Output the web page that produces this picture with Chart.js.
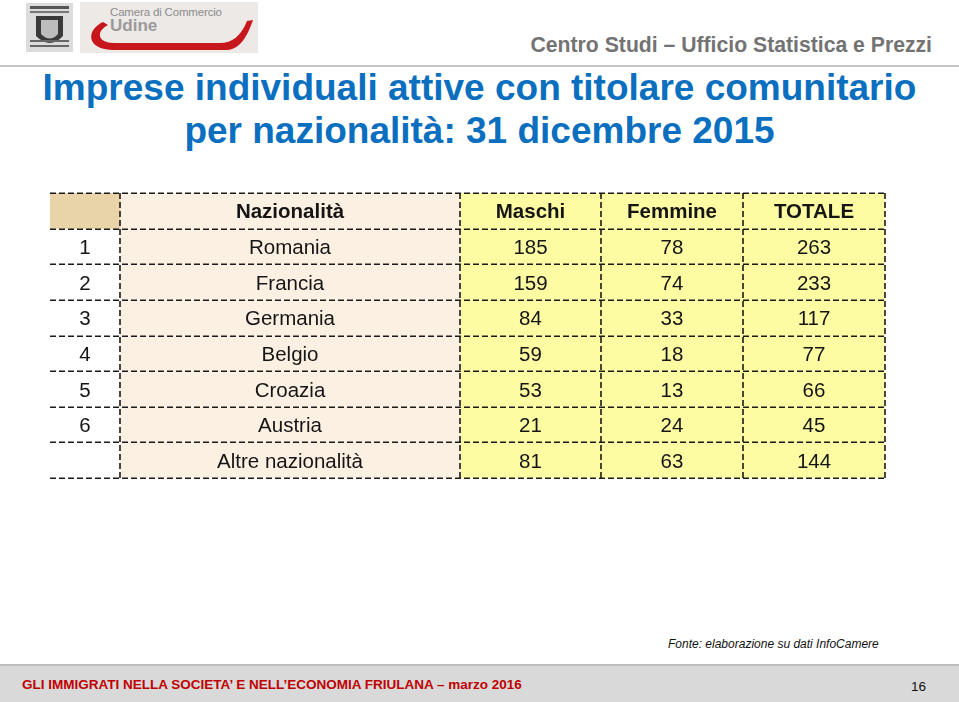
<!DOCTYPE html>
<html lang="it">
<head>
<meta charset="utf-8">
<title>Imprese individuali attive con titolare comunitario</title>
<script src="https://cdn.jsdelivr.net/npm/chart.js@4.4.1/dist/chart.umd.min.js"></script>
<style>
  html, body { margin: 0; padding: 0; background: #fff; }
  body { width: 959px; height: 702px; position: relative; overflow: hidden;
         font-family: 'Liberation Sans', Arial, sans-serif; }
  .abs { position: absolute; white-space: nowrap; }
  #topline { left: 0; top: 65px; width: 959px; height: 2px; background: #c4c4c4; }
  #ufficio { right: 27px; top: 33px; font-size: 21.2px; font-weight: bold; color: #737373; }
  .title { left: 0; width: 959px; text-align: center; font-size: 37px; font-weight: bold; color: #0b6fc0; }
  #fonte { left: 668px; top: 637px; font-size: 12px; font-style: italic; color: #111; }
  #footer { left: 0; top: 664px; width: 959px; height: 38px; background: #d9d9d9; border-top: 2px solid #bdbdbd; }
  #footTxt { left: 22px; top: 677px; font-size: 13.5px; font-weight: bold; color: #c00000; }
  #pageNo { left: 911px; top: 679px; font-size: 13.5px; color: #111; }
  #tbl { position: absolute; left: 48px; top: 191px; }
</style>
</head>
<body>

<svg class="abs" style="left:0;top:0" width="270" height="60">
  <!-- stemma -->
  <rect x="26" y="3" width="47" height="49" fill="#dcdcdc"/>
  <rect x="30" y="6" width="39" height="3" fill="#555"/>
  <rect x="30" y="11" width="39" height="2" fill="#777"/>
  <path d="M36 16 h27 v20 q-13 14 -27 0 z" fill="#3a3a3a"/>
  <path d="M41 20 h17 v14 q-8 9 -17 0 z" fill="#bdbdbd"/>
  <rect x="30" y="40" width="39" height="2" fill="#666"/>
  <rect x="30" y="45" width="39" height="2" fill="#666"/>
  <!-- camera di commercio -->
  <rect x="80" y="2" width="178" height="51" fill="#ece9e7"/>
  <path d="M103 22 C 86 30, 86 49, 112 50 L 228 50 C 242 48, 248 34, 253 20 L 247 21 C 241 36, 232 43, 220 43 L 114 43 C 97 43, 96 31, 108 25 Z" fill="#c8161d"/>
  <text x="110" y="16" font-family="Liberation Sans Narrow, Liberation Sans, Arial" font-size="11.5" fill="#8c8c8c" textLength="112">Camera di Commercio</text>
  <text x="110" y="31" font-family="Liberation Sans Narrow, Liberation Sans, Arial" font-size="17" font-weight="bold" fill="#9a9a9a">Udine</text>
</svg>

<div class="abs" id="ufficio">Centro Studi – Ufficio Statistica e Prezzi</div>
<div class="abs" id="topline"></div>
<div class="abs title" style="top:67px">Imprese individuali attive con titolare comunitario</div>
<div class="abs title" style="top:110px">per nazionalità: 31 dicembre 2015</div>

<canvas id="tbl" width="840" height="290"></canvas>

<div class="abs" id="fonte">Fonte: elaborazione su dati InfoCamere</div>
<div class="abs" id="footer"></div>
<div class="abs" id="footTxt">GLI IMMIGRATI NELLA SOCIETA’ E NELL’ECONOMIA FRIULANA – marzo 2016</div>
<div class="abs" id="pageNo">16</div>

<script>
// ─── DATA ────────────────────────────────────────────────────────────────────
const headers  = ['', 'Nazionalità', 'Maschi', 'Femmine', 'TOTALE'];
const ranks    = ['1', '2', '3', '4', '5', '6', ''];
const nations  = ['Romania', 'Francia', 'Germania', 'Belgio', 'Croazia', 'Austria', 'Altre nazionalità'];
const maschi   = [185, 159, 84, 59, 53, 21, 81];
const femmine  = [78, 74, 33, 18, 13, 24, 63];
const totale   = [263, 233, 117, 77, 66, 45, 144];

// ─── LAYOUT ──────────────────────────────────────────────────────────────────
const COL_EDGES = [0, 70, 410, 551, 693, 835];   // table units = px
const rowLabels = ['header', ...nations];
const columns = [ranks, nations, maschi, femmine, totale];

const FILL_TAN = '#e9d4aa', FILL_PEACH = '#fcf0e3', FILL_YELLOW = '#fdfca2';

const span = (a, b) => rowLabels.map(() => [COL_EDGES[a], COL_EDGES[b]]);
const barDefaults = { grouped: false, barPercentage: 1, categoryPercentage: 1, borderWidth: 0, borderSkipped: false };

// dashed grid + cell text, positioned from the chart scales
const tablePlugin = {
  id: 'tableGrid',
  afterDatasetsDraw(chart) {
    const { ctx, scales: { x, y } } = chart;
    const half = (y.getPixelForValue(1) - y.getPixelForValue(0)) / 2;
    const top = y.getPixelForValue(0) - half;
    const bottom = y.getPixelForValue(rowLabels.length - 1) + half;
    const left = x.getPixelForValue(COL_EDGES[0]);
    const right = x.getPixelForValue(COL_EDGES[COL_EDGES.length - 1]);

    ctx.save();
    ctx.strokeStyle = '#1a1a1a';
    ctx.lineWidth = 1.6;
    ctx.setLineDash([6, 3]);
    for (let i = 0; i <= rowLabels.length; i++) {
      const yy = Math.round(top + i * half * 2) + 0.2;
      ctx.beginPath(); ctx.moveTo(left, yy); ctx.lineTo(right, yy); ctx.stroke();
    }
    for (let c = 1; c < COL_EDGES.length; c++) {
      const xx = Math.round(x.getPixelForValue(COL_EDGES[c]));
      ctx.beginPath(); ctx.moveTo(xx, top); ctx.lineTo(xx, bottom); ctx.stroke();
    }
    ctx.setLineDash([]);

    ctx.textAlign = 'center';
    ctx.textBaseline = 'middle';
    ctx.fillStyle = '#151515';
    const colMid = c => x.getPixelForValue((COL_EDGES[c] + COL_EDGES[c + 1]) / 2);
    ctx.font = "bold 20.5px 'Liberation Sans', Arial, sans-serif";
    headers.forEach((h, c) => { if (h) ctx.fillText(h, colMid(c), y.getPixelForValue(0) + 2); });
    ctx.font = "20.5px 'Liberation Sans', Arial, sans-serif";
    columns.forEach((col, c) => {
      col.forEach((v, r) => ctx.fillText(String(v), colMid(c), y.getPixelForValue(r + 1) + 2));
    });
    ctx.restore();
  }
};

new Chart(document.getElementById('tbl'), {
  type: 'bar',
  data: {
    labels: rowLabels,
    datasets: [
      { ...barDefaults, data: rowLabels.map((_, i) => i === 0 ? [COL_EDGES[0], COL_EDGES[1]] : null), backgroundColor: FILL_TAN },
      { ...barDefaults, data: span(1, 2), backgroundColor: FILL_PEACH },
      { ...barDefaults, data: span(2, 5), backgroundColor: FILL_YELLOW },
    ]
  },
  options: {
    indexAxis: 'y',
    responsive: false,
    animation: false,
    layout: { padding: { left: 2, right: 3, top: 2, bottom: 3 } },
    plugins: { legend: { display: false }, tooltip: { enabled: false } },
    scales: {
      x: { type: 'linear', min: COL_EDGES[0], max: COL_EDGES[COL_EDGES.length - 1], display: false },
      y: { type: 'category', display: false, offset: true }
    }
  },
  plugins: [tablePlugin]
});
</script>
</body>
</html>
